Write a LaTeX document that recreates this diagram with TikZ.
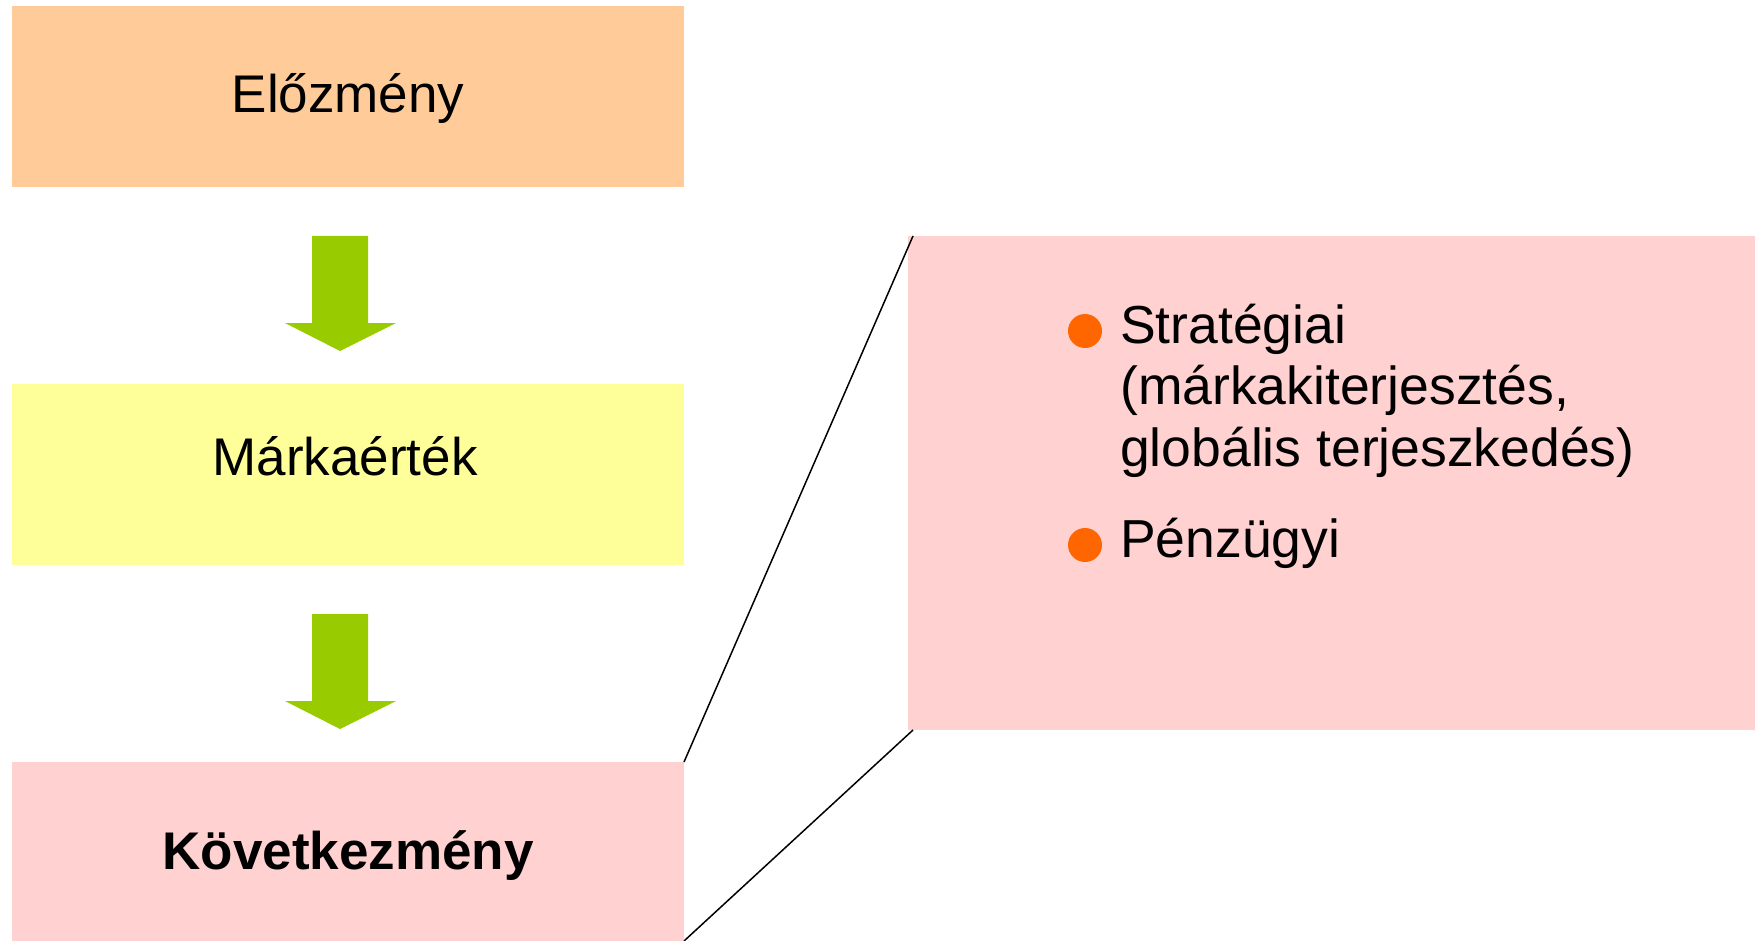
\documentclass[tikz,border=0pt]{standalone}
\usepackage{fontspec}
\setmainfont{Liberation Sans}
\definecolor{peach}{HTML}{FFCC99}
\definecolor{lightyellow}{HTML}{FFFF99}
\definecolor{lightpink}{HTML}{FFD1D1}
\definecolor{arrowgreen}{HTML}{99CC00}
\definecolor{bulletorange}{HTML}{FF6600}
\begin{document}
\begin{tikzpicture}[x=1pt,y=-1pt,
  label/.style={anchor=base, inner sep=0pt, font=\fontsize{53}{61}\selectfont},
  bullettext/.style={anchor=base west, inner sep=0pt, align=left, font=\fontsize{53.5}{61.5}\selectfont},
  bulletdot/.style={circle, fill=bulletorange, minimum size=34pt, inner sep=0pt},
  greenarrow/.style={fill=arrowgreen, draw=none},
  link/.style={draw=black, line width=1.5pt}]
\useasboundingbox (0,0) rectangle (1760,941);
% boxes
\fill[peach] (12,6) rectangle (684,187);
\fill[lightyellow] (12,384) rectangle (684,565);
\fill[lightpink] (12,762) rectangle (684,941);
\coordinate (Kne) at (684,762); \coordinate (Kse) at (684,941);
\fill[lightpink] (908,236) rectangle (1755,730);
\coordinate (Rnw) at (913,236); \coordinate (Rsw) at (913,730);
% labels
\node[label] (elo) at (348,113) {Előzmény};
\node[label] (marka) at (345,475) {Márkaérték};
\node[label] (kov) at (348,869) {\bfseries Következmény};
% arrows
\foreach \dy in {0,378} {
  \fill[greenarrow] (312,236+\dy) -- (368,236+\dy) -- (368,323+\dy) -- (396,323+\dy)
     -- (340,351+\dy) -- (285,323+\dy) -- (312,323+\dy) -- cycle;
}
% connector lines
\draw[link] (Kne) -- (Rnw);
\draw[link] (Kse) -- (Rsw);
% bullets
\node[bulletdot] (b1) at (1085,331) {};
\node[bulletdot] (b2) at (1085,545) {};
\node[bullettext] (t1) at (1120,466) {Stratégiai\\(márkakiterjesztés,\\globális terjeszkedés)};
\node[bullettext] (t2) at (1120,557) {Pénzügyi};
\end{tikzpicture}
\end{document}
